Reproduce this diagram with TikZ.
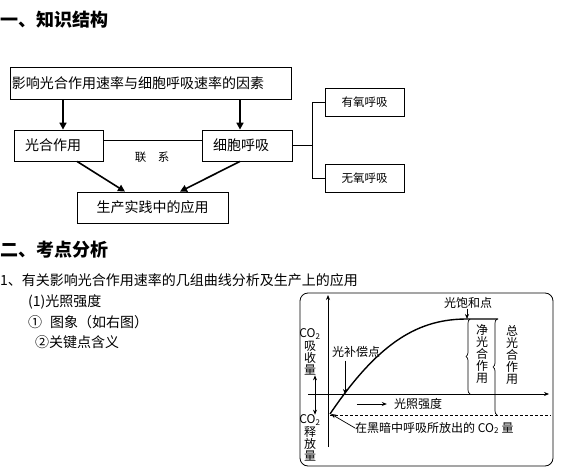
\documentclass[tikz,border=0pt]{standalone}
\usepackage{fontspec}
\setmainfont{Noto Sans CJK SC}
\usepackage{tikz}
\usetikzlibrary{arrows.meta,decorations.pathreplacing}

\begin{document}
\begin{tikzpicture}[x=1pt, y=-1pt, every node/.style={font=\fontsize{14}{15}\selectfont, inner sep=0pt}, >={Triangle[length=7pt,width=7pt]}, kuang/.style={draw, line width=0.8pt}, jt/.style={->, line width=1.6pt}, xiao/.style={font=\fontsize{11.5}{12}\selectfont}, tu/.style={font=\fontsize{12}{12.2}\selectfont}, xj/.style={-{Stealth[length=5pt,width=4pt]}, line width=0.7pt}]
	\useasboundingbox (0,0) rectangle (567,468);
	% 一、知识结构
	\node[anchor=west, font=\fontsize{18}{19}\selectfont\bfseries] (bt1) at (0,20) {一、知识结构};
	\node[kuang, minimum width=281pt, minimum height=32pt, text width=277pt] (ys) at (150.5,83) {影响光合作用速率与细胞呼吸速率的因素};
	\node[kuang, minimum height=31pt, text width=67pt, inner xsep=11pt] (gh) at (58.5,145.5) {光合作用};
	\node[kuang, minimum height=31pt, text width=68pt, inner xsep=11pt] (hx) at (247,145.5) {细胞呼吸};
	\node[kuang, minimum width=151pt, minimum height=31pt] (yy) at (152.5,207.5) {生产实践中的应用};
	\node[kuang, xiao, minimum width=79pt, minimum height=28pt] (yo) at (364.5,102) {有氧呼吸};
	\node[kuang, xiao, minimum width=79pt, minimum height=28pt] (wo) at (364.5,178.5) {无氧呼吸};
	\node[xiao] (lx) at (152,157) {联\quad 系};
	\draw[jt] ([xshift=4.5pt]gh.north |- ys.south) -- ([xshift=4.5pt]gh.north);
	\draw[jt] ([xshift=-7pt]hx.north |- ys.south) -- ([xshift=-7pt]hx.north);
	\draw[line width=0.8pt] ([yshift=5.5pt]gh.east) -- ([yshift=5.5pt]hx.west);
	\draw[jt] ([xshift=18.5pt]gh.south) -- ([xshift=-27.5pt]yy.north);
	\draw[jt] ([xshift=-7pt]hx.south) -- ([xshift=27.5pt]yy.north);
	\draw[line width=0.8pt] (yo.west) -- ++(-12,0) coordinate (fz) |- (wo.west);
	\draw[line width=0.8pt] (hx.east) -- (hx.east -| fz);
	% 二、考点分析
	\node[anchor=west, font=\fontsize{18}{19}\selectfont\bfseries] (bt2) at (0,250) {二、考点分析};
	\node[anchor=west] (t1) at (0,280) {1、有关影响光合作用速率的几组曲线分析及生产上的应用};
	\node[anchor=west] (t2) at (28,302) {(1)光照强度};
	\node[anchor=west] (t3) at (28,322) {①\hspace{8pt}图象（如右图）};
	\node[anchor=west] (t4) at (35,342) {②关键点含义};
	% 曲线图
	\draw[line width=0.8pt, rounded corners=8pt] (300,293) rectangle (553,466);
	\coordinate (O) at (328,394);
	\coordinate (qd) at (330,414);
	\coordinate (bhd) at (467,319);
	\coordinate (bcd) at (345,394);
	\draw[xj] (328,447) -- (328,295);
	\draw[xj] (308,394) -- (549,394);
	\draw[line width=1.4pt] (qd) .. controls (380,340) and (420,319) .. (bhd) -- (498,319);
	\draw[dashed, line width=0.7pt, dash pattern=on 3pt off 2pt] (330,415) -- (551,415);
	\draw[decorate, decoration={brace, amplitude=4pt}, line width=0.7pt] (470,394) -- (470,319);
	\draw[decorate, decoration={brace, amplitude=4pt}, line width=0.7pt] (497,415) -- (497,319);
	\node[tu] (bh) at (468,303) {光饱和点};
	\draw[xj] (bh.south -| bhd) -- (bhd);
	\node[tu] (bc) at (356,352) {光补偿点};
	\draw[xj] ([yshift=-3pt]bc.south -| bcd) -- (bcd);
	\node[tu] (gz) at (418,404) {光照强度};
	\draw[xj] ([xshift=-37pt]gz.west) -- ([xshift=-7pt]gz.west);
	\node[tu, anchor=west] (hs) at (355,428) {在黑暗中呼吸所放出的 CO\textsubscript{2} 量};
	\draw[xj] (hs.west) -- ([xshift=1pt]qd);
	\node[tu, align=center] (jg) at (482,354) {净\\光\\合\\作\\用};
	\node[tu, align=center] (zg) at (512,355) {总\\光\\合\\作\\用};
	\node[tu, align=center] (xs) at (310,352) {CO\textsubscript{2}\\吸\\收\\量};
	\node[tu, align=center] (sf) at (310,438) {CO\textsubscript{2}\\释\\放\\量};
	\draw[{Stealth[length=5pt,width=4pt]}-{Stealth[length=5pt,width=4pt]}, line width=0.7pt] ([xshift=5pt]xs.south) -- ([xshift=5pt]sf.north);
\end{tikzpicture}
\end{document}
